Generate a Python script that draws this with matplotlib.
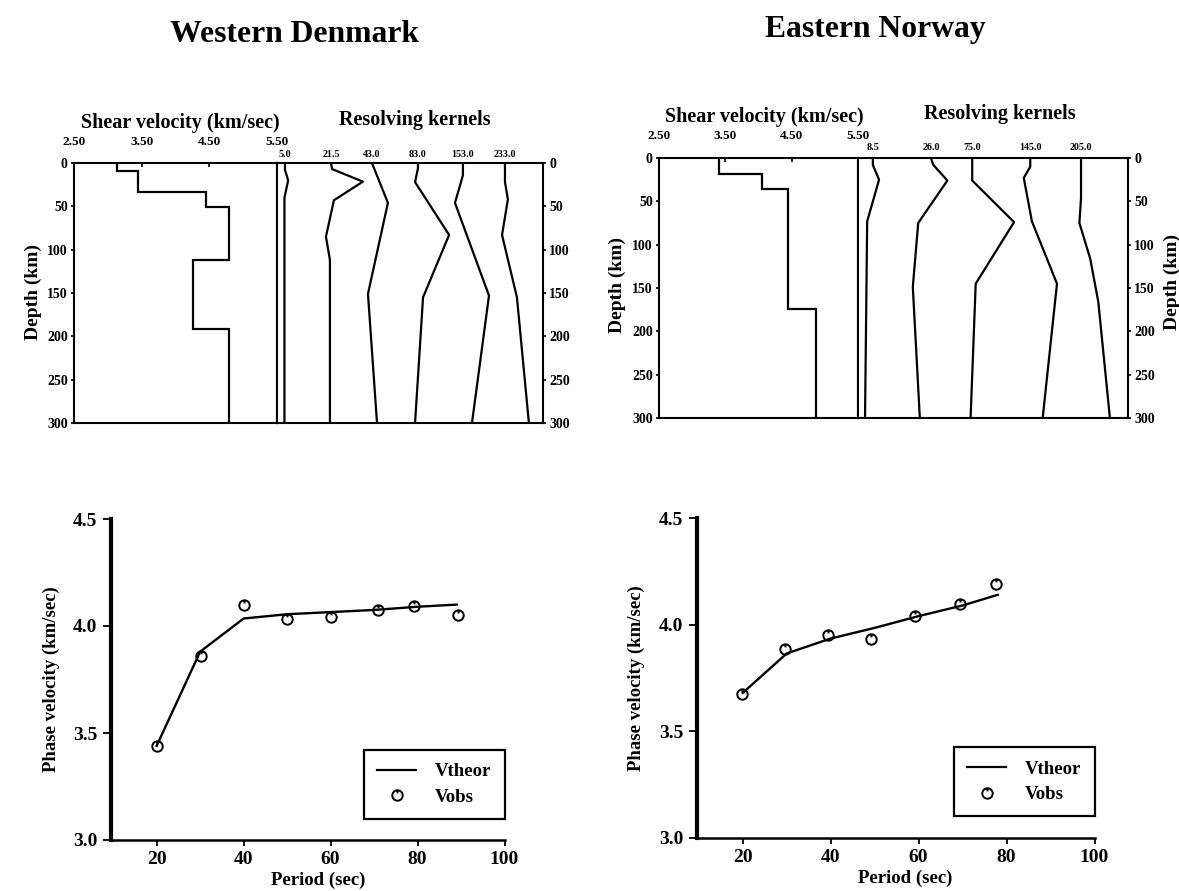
import matplotlib
matplotlib.use("Agg")
import matplotlib.pyplot as plt
from matplotlib.lines import Line2D
from matplotlib.path import Path
from matplotlib.ticker import FormatStrFormatter

plt.rcParams.update({
    "font.family": ["Liberation Serif", "DejaVu Serif"],
    "font.weight": "bold",
    "axes.labelweight": "bold",
    "axes.linewidth": 1.5,
    "lines.linewidth": 1.5,
    "xtick.major.width": 1.2,
    "ytick.major.width": 1.2,
})

# shear velocity profiles: layer boundaries (km) and velocities (km/sec)
dk_layers = [0, 9, 33, 51, 112, 191, 300]
dk_vs = [3.13, 3.44, 4.45, 4.79, 4.26, 4.79]
no_layers = [0, 18, 36, 174, 300]
no_vs = [3.40, 4.05, 4.44, 4.87]

# resolving kernels (label = target depth), curve depths and relative amplitudes
dk_kernel_names = ["5.0", "21.5", "43.0", "83.0", "153.0", "233.0"]
dk_kernel_depth = [
    [0, 8, 20, 40, 300],
    [0, 7, 21.5, 43, 85, 112, 300],
    [0, 46, 151, 300],
    [0, 6, 22, 83, 155, 300],
    [0, 14, 26, 46, 153, 300],
    [0, 22, 42, 83, 155, 300],
]
dk_kernel_amp = [
    [3.0, 3.0, 4.2, 2.8, 2.8],
    [20.3, 20.7, 32.3, 21.4, 18.4, 19.9, 19.9],
    [35.7, 41.7, 34.2, 37.6],
    [53.0, 53.0, 51.9, 64.7, 54.9, 51.9],
    [69.9, 69.9, 68.8, 66.9, 79.7, 73.3],
    [85.7, 85.7, 86.8, 84.6, 90.2, 94.7],
]

no_kernel_names = ["8.5", "26.0", "75.0", "145.0", "205.0"]
no_kernel_depth = [
    [0, 8, 25, 73, 300],
    [0, 8, 26, 75, 149, 300],
    [0, 26, 74, 145, 300],
    [0, 10, 23, 73, 145, 300],
    [0, 46, 75, 116, 166, 300],
]
no_kernel_amp = [
    [5.5, 5.5, 7.8, 3.4, 2.6],
    [27.0, 27.9, 33.1, 22.3, 20.3, 22.9],
    [42.3, 42.3, 57.8, 43.6, 41.7],
    [63.8, 63.8, 61.4, 64.4, 73.7, 68.4],
    [82.6, 82.6, 82.0, 86.0, 89.0, 93.3],
]

# phase velocity dispersion curves
dk_period_th = [20, 30, 40, 50, 60, 70, 80, 89]
dk_vtheor = [3.44, 3.88, 4.035, 4.055, 4.065, 4.075, 4.09, 4.10]
dk_period_obs = [20, 30.3, 40.2, 50, 60, 70.8, 79.2, 89.2]
dk_vobs = [3.44, 3.86, 4.10, 4.035, 4.04, 4.075, 4.095, 4.05]

no_period_th = [20, 30, 40, 50, 60, 70, 78]
no_vtheor = [3.68, 3.865, 3.935, 3.985, 4.04, 4.09, 4.14]
no_period_obs = [19.8, 29.7, 39.3, 49.1, 59.1, 69.5, 77.7]
no_vobs = [3.677, 3.888, 3.953, 3.934, 4.039, 4.095, 4.19]

vel_ticks = [2.5, 3.5, 4.5, 5.5]
depth_ticks = [0, 50, 100, 150, 200, 250, 300]

W, H = 1179, 891
fig = plt.figure(figsize=(W / 100, H / 100), dpi=100)

# open circle with a small notch at the top, as in the original plot symbol
obs_marker = Path.make_compound_path(
    Path.unit_circle(), Path([(0, 1.0), (0, 0.4)], [Path.MOVETO, Path.LINETO]))


def rect(x0, y0, x1, y1):
    return [x0 / W, 1 - y1 / H, (x1 - x0) / W, (y1 - y0) / H]


def profile(rv, rk, layers, vs, names, depths, amps, vpad, kpad):
    av = fig.add_axes(rv)
    av.stairs(vs, layers, orientation="horizontal", baseline=None,
              color="black", lw=1.6)
    av.set_xlim(2.5, 5.5)
    av.set_ylim(300, 0)
    av.set_xticks(vel_ticks, [f"{v:.2f}" for v in vel_ticks])
    av.xaxis.tick_top()
    av.tick_params(axis="x", direction="in", length=3, labelsize=9.5,
                   pad=vpad)
    av.set_yticks(depth_ticks)
    av.tick_params(axis="y", direction="out", length=2.5, pad=2,
                   labelsize=10)

    ak = fig.add_axes(rk)
    for d, a in zip(depths, amps):
        ak.plot(a, d, color="black", lw=1.6)
    ak.set_xlim(0, 100)
    ak.set_ylim(300, 0)
    ak.set_xticks([a[0] for a in amps], names)
    ak.xaxis.tick_top()
    ak.tick_params(axis="x", length=0, labelsize=7.2, pad=kpad)
    ak.set_yticks(depth_ticks)
    ak.yaxis.tick_right()
    ak.tick_params(axis="y", direction="out", length=2.5, pad=2,
                   labelsize=10)
    return av, ak


def dispersion(r, x0, pth, vth, pobs, vobs, leg_y):
    ax = fig.add_axes(r)
    ax.plot(pth, vth, color="black", lw=1.7)
    ax.plot(pobs, vobs, ls="none", marker=obs_marker, ms=7.5, mfc="none",
            mec="black", mew=1.4)
    ax.set_xlim(x0, 100)
    ax.set_ylim(3.0, 4.5)
    ax.set_xticks([20, 40, 60, 80, 100])
    ax.set_yticks([3.0, 3.5, 4.0, 4.5])
    ax.yaxis.set_major_formatter(FormatStrFormatter("%.1f"))
    for s in ("top", "right"):
        ax.spines[s].set_visible(False)
    ax.spines["left"].set_linewidth(3)
    ax.spines["bottom"].set_linewidth(1.8)
    ax.tick_params(labelsize=14, width=1.3)
    ax.tick_params(axis="y", length=6, pad=4)
    ax.tick_params(axis="x", length=4, pad=4)
    ax.set_xlabel("Period (sec)", fontsize=13.5)
    ax.set_ylabel("Phase velocity (km/sec)", fontsize=13.5)
    handles = [Line2D([], [], color="black", lw=1.6),
               Line2D([], [], ls="none", marker=obs_marker, ms=7.5,
                      mfc="none", mec="black", mew=1.4)]
    leg = ax.legend(handles, ["Vtheor", "Vobs"], loc="lower right",
                    bbox_to_anchor=(1.0, leg_y), borderaxespad=0,
                    fontsize=13.5, fancybox=False, edgecolor="black",
                    framealpha=1, handlelength=2.1, handletextpad=1.0,
                    borderpad=0.7, labelspacing=0.45)
    leg.get_frame().set_linewidth(1.6)
    return ax


# Western Denmark
profile(rect(74, 163, 277, 423), rect(277, 163, 543, 423),
        dk_layers, dk_vs, dk_kernel_names, dk_kernel_depth, dk_kernel_amp,
        vpad=10.5, kpad=3.2)
bx = dispersion(rect(111, 519, 504.5, 840), 9.5, dk_period_th, dk_vtheor,
                dk_period_obs, dk_vobs, 0.065)
bx.xaxis.set_label_coords(0.527, -0.1)
bx.yaxis.set_label_coords(-0.129, 0.5)

# Eastern Norway
profile(rect(659, 158, 858, 418), rect(858, 158, 1128, 418),
        no_layers, no_vs, no_kernel_names, no_kernel_depth, no_kernel_amp,
        vpad=11.5, kpad=4.5)
bx = dispersion(rect(697, 518, 1094.5, 838), 9.6, no_period_th, no_vtheor,
                no_period_obs, no_vobs, 0.068)
bx.xaxis.set_label_coords(0.523, -0.098)
bx.yaxis.set_label_coords(-0.131, 0.5)

# headings
fig.text(295 / W, 1 - 41.5 / H, "Western Denmark", ha="center",
         va="baseline", fontsize=22.8)
fig.text(875 / W, 1 - 37.5 / H, "Eastern Norway", ha="center",
         va="baseline", fontsize=22.8)
fig.text(180.5 / W, 1 - 128.3 / H, "Shear velocity (km/sec)", ha="center",
         va="baseline", fontsize=14.5)
fig.text(414.5 / W, 1 - 125 / H, "Resolving kernels", ha="center",
         va="baseline", fontsize=14.5)
fig.text(764 / W, 1 - 122.3 / H, "Shear velocity (km/sec)", ha="center",
         va="baseline", fontsize=14.5)
fig.text(1000 / W, 1 - 119 / H, "Resolving kernels", ha="center",
         va="baseline", fontsize=14.5)
fig.text(33.3 / W, 1 - 292 / H, "Depth (km)", ha="center", va="center",
         rotation=90, fontsize=14)
fig.text(617 / W, 1 - 285 / H, "Depth (km)", ha="center", va="center",
         rotation=90, fontsize=14)
fig.text(1172 / W, 1 - 282 / H, "Depth (km)", ha="center", va="center",
         rotation=90, fontsize=14)

fig.savefig("out.png", dpi=100, facecolor="white")
